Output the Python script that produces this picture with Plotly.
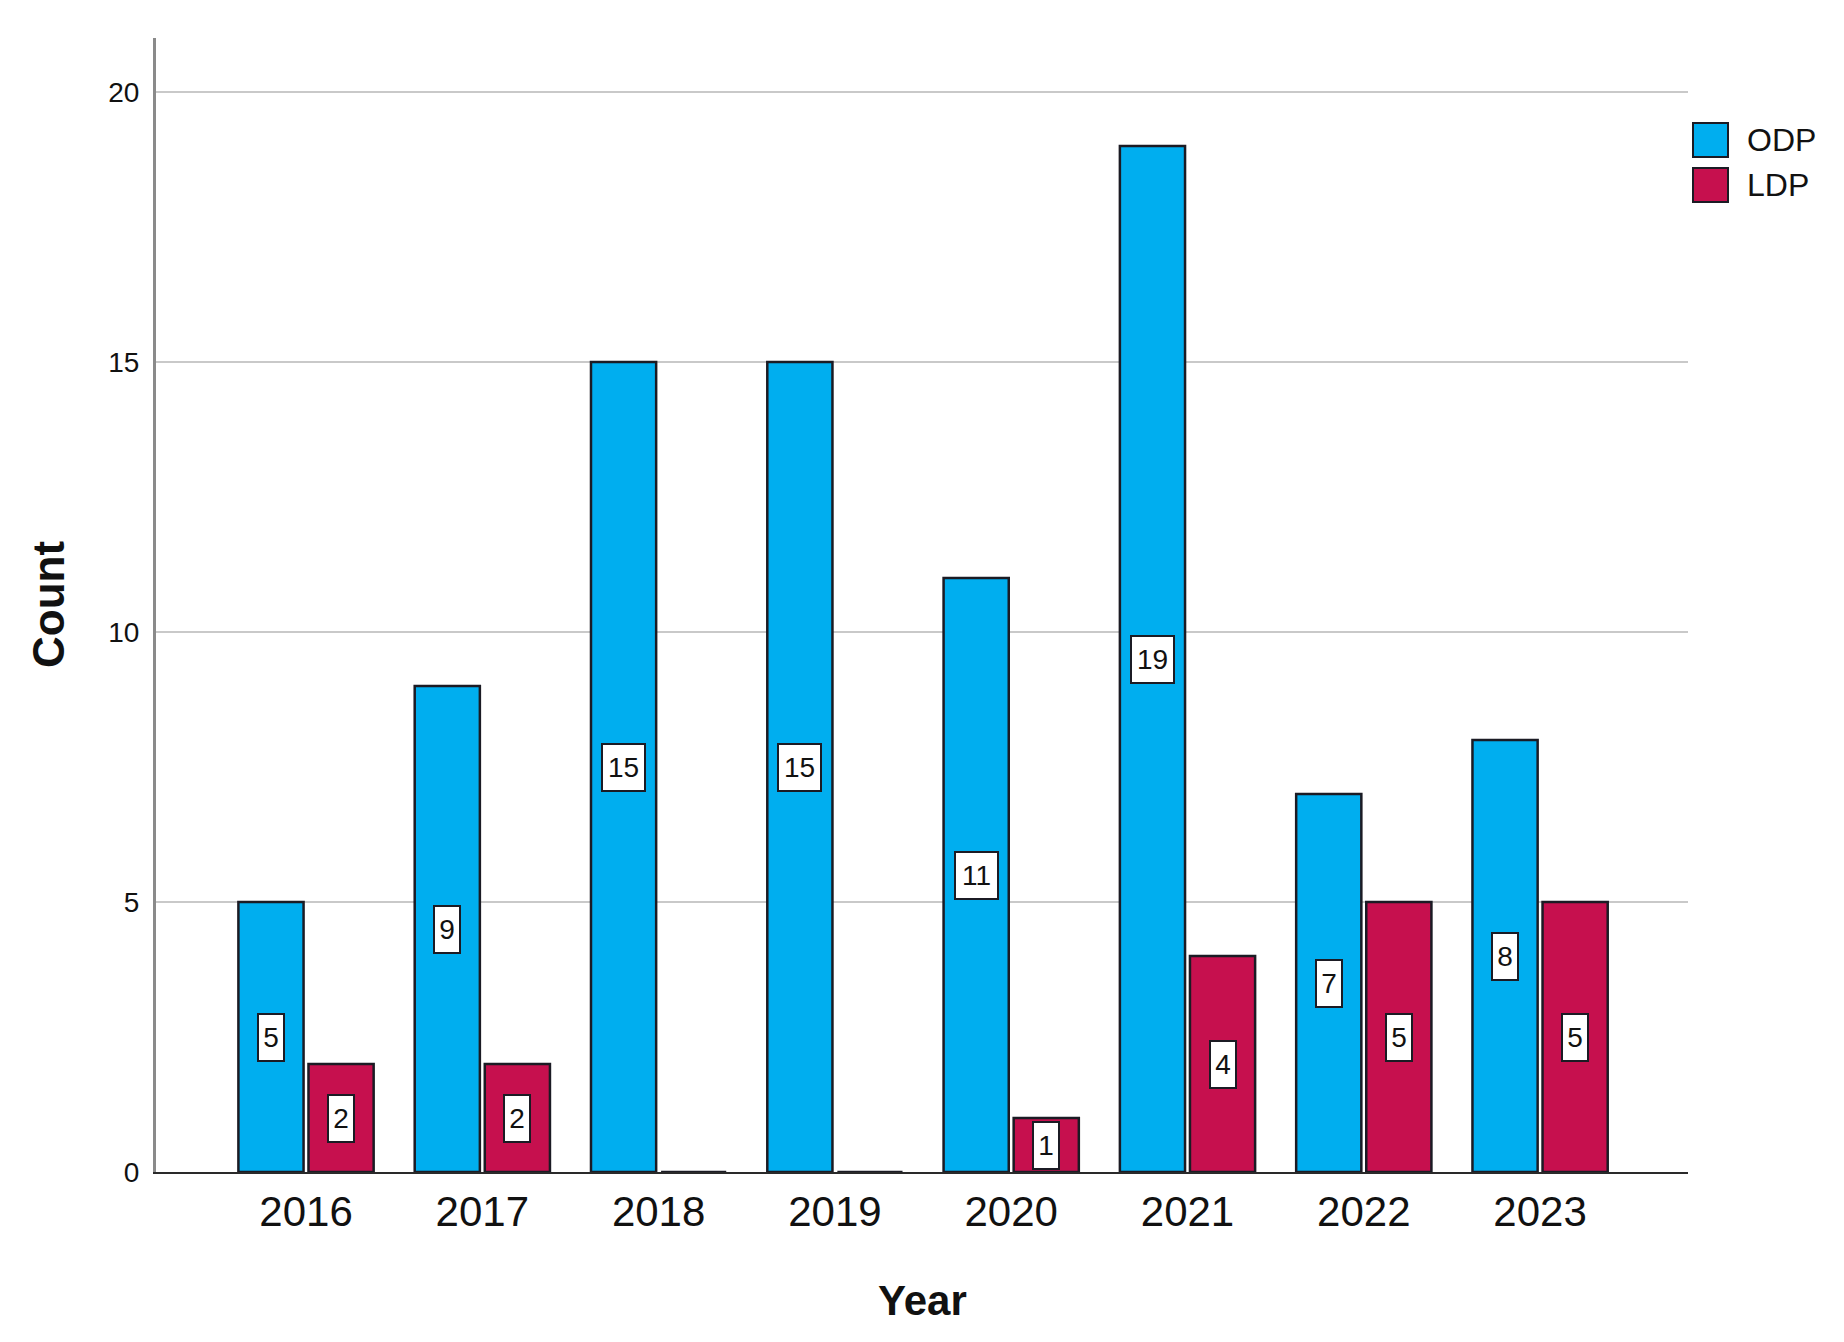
import plotly.graph_objects as go

years = ["2016", "2017", "2018", "2019", "2020", "2021", "2022", "2023"]
odp = [5, 9, 15, 15, 11, 19, 7, 8]
ldp = [2, 2, 0, 0, 1, 4, 5, 5]
series_names = ["ODP", "LDP"]
colors = ["#00AEEF", "#C6104E"]
y_ticks = [0, 5, 10, 15, 20]

FONT = "Liberation Sans, Arial, sans-serif"
OFF = 8  # default page body margin
W, H = 1844 - 2 * OFF, 1342 - 2 * OFF
ML, MR, MT, MB = 156 - OFF, 148, 38 - OFF, 162
BARGAP = 0.205
PLOT_RIGHT = W - MR  # figure px

fig = go.Figure()
for name, vals, col in zip(series_names, [odp, ldp], colors):
    fig.add_trace(go.Bar(
        x=years, y=vals, name=name,
        marker=dict(color=col, line=dict(color="#1b1b24", width=2.5)),
        showlegend=False, hoverinfo="x+y+name",
    ))

# value labels (white boxes in middle of each bar)
half = (1 - BARGAP) / 4
annotations = []
for s, vals in enumerate([odp, ldp]):
    off = -half if s == 0 else half
    for i, v in enumerate(vals):
        if v == 0:
            continue
        txt = str(v)
        annotations.append(dict(
            x=i + off, y=v / 2, xref="x", yref="y", text=txt,
            showarrow=False, font=dict(family=FONT, size=28, color="#111"),
            bgcolor="white", bordercolor="#1b1b24", borderwidth=2,
            borderpad=4, height=37, width=17 * len(txt) - 1,
        ))

# axis titles
annotations.append(dict(
    x=0.5, y=0, xref="paper", yref="paper", yanchor="middle", yshift=-128,
    text="<b>Year</b>", showarrow=False,
    font=dict(family=FONT, size=42, color="#111"),
))
annotations.append(dict(
    x=0, y=0.5, xref="paper", yref="paper", xanchor="center", xshift=-108,
    text="<b>Count</b>", textangle=-90, showarrow=False,
    font=dict(family=FONT, size=44, color="#111"),
))

# custom legend (page px converted to figure px)
shapes = []
leg_rows = [(123, 157), (168, 202)]
for (t, b), name, col in zip(leg_rows, series_names, colors):
    shapes.append(dict(
        type="rect", xref="paper", yref="paper", xsizemode="pixel", ysizemode="pixel",
        xanchor=1, yanchor=1,
        x0=(1693 - OFF) - PLOT_RIGHT, x1=(1728 - OFF) - PLOT_RIGHT,
        y0=MT - (b - OFF), y1=MT - (t - OFF),
        fillcolor=col, line=dict(color="#1b1b24", width=2),
    ))
    annotations.append(dict(
        x=1, y=1, xref="paper", yref="paper", xanchor="left", yanchor="middle",
        xshift=(1745 - OFF) - PLOT_RIGHT, yshift=MT - ((t + b) / 2 - OFF),
        text=name, showarrow=False,
        font=dict(family=FONT, size=32, color="#111"),
    ))

fig.update_layout(
    width=W, height=H,
    margin=dict(l=ML, r=MR, t=MT, b=MB, autoexpand=False),
    paper_bgcolor="white", plot_bgcolor="white",
    barmode="group", bargap=BARGAP, bargroupgap=0.07,
    font=dict(family=FONT, color="#111"),
    annotations=annotations, shapes=shapes,
    xaxis=dict(
        type="category", range=[-0.851, 7.839],
        showline=True, linecolor="#2a2a2a", linewidth=2,
        showgrid=False, ticks="", zeroline=False,
        tickfont=dict(family=FONT, size=42, color="#111"),
        ticklabelstandoff=2,
    ),
    yaxis=dict(
        range=[0, 21], tickvals=y_ticks,
        showline=True, linecolor="#8a8a8a", linewidth=3,
        showgrid=True, gridcolor="#c9c9c9", gridwidth=2,
        zeroline=False, ticks="",
        tickfont=dict(family=FONT, size=28, color="#111"),
        ticklabelstandoff=8,
    ),
)

fig.write_html("out.html")
